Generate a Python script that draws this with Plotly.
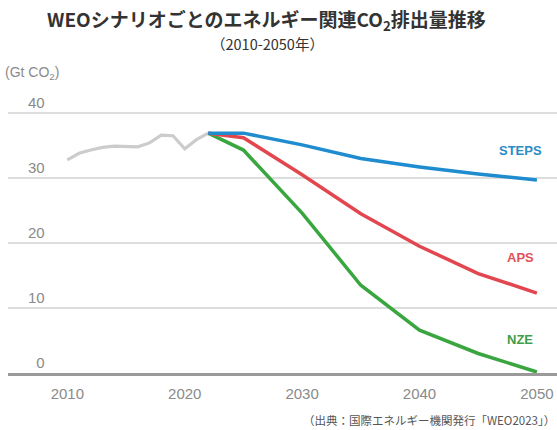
import plotly.graph_objects as go

hist_years = [2010, 2011, 2012, 2013, 2014, 2015, 2016, 2017, 2018, 2019, 2020, 2021, 2022]
hist_vals = [32.8, 33.8, 34.3, 34.7, 34.9, 34.8, 34.8, 35.4, 36.6, 36.5, 34.5, 35.9, 36.9]

scen_years = [2022, 2025, 2030, 2035, 2040, 2045, 2050]
steps_vals = [36.9, 36.9, 35.1, 33.0, 31.7, 30.6, 29.7]
aps_vals = [36.9, 36.2, 30.5, 24.5, 19.5, 15.3, 12.3]
nze_vals = [36.9, 34.3, 24.6, 13.5, 6.6, 3.0, 0.15]

x_ticks = [2010, 2020, 2030, 2040, 2050]
y_ticks = [0, 10, 20, 30, 40]

labels = [("STEPS", 2048.6, 34.3, "#2a8cc6"),
          ("APS", 2048.6, 17.7, "#e0525a"),
          ("NZE", 2048.6, 5.1, "#3f9e4a")]

GRAY_TXT = "#8a8a8a"
FONT = "Liberation Sans, Noto Sans CJK JP, sans-serif"
JP = "Noto Sans CJK JP, sans-serif"

TOP = 80          # plot area top (px)
BOT = 373         # y = 0 (px)
PXV = 6.5         # px per unit
PH = BOT - TOP

fig = go.Figure()
fig.add_trace(go.Scatter(x=hist_years, y=hist_vals, mode="lines",
                         line=dict(color="#cccccc", width=3.2), hoverinfo="skip"))
fig.add_trace(go.Scatter(x=scen_years, y=nze_vals, mode="lines",
                         line=dict(color="#3aa640", width=3.5)))
fig.add_trace(go.Scatter(x=scen_years, y=aps_vals, mode="lines",
                         line=dict(color="#e2474f", width=3.5)))
fig.add_trace(go.Scatter(x=scen_years, y=steps_vals, mode="lines",
                         line=dict(color="#1e8ccf", width=3.5)))

for name, xx, yy, col in labels:
    fig.add_annotation(x=xx, y=yy, text=f"<b>{name}</b>", showarrow=False,
                       font=dict(family=FONT, size=13, color=col), xanchor="center")

def py(p):
    return (BOT - p) / PH

# titles
fig.add_annotation(xref="paper", yref="paper", x=(266 - 8) / 549, y=py(20),
                   text="<b>WEOシナリオごとのエネルギー関連CO<sub>2</sub>排出量推移</b>",
                   showarrow=False, font=dict(family=JP, size=19, color="#333333"),
                   xanchor="center", yanchor="middle")
fig.add_annotation(xref="paper", yref="paper", x=(267 - 8) / 549, y=py(44),
                   text="（2010-2050年）", showarrow=False,
                   font=dict(family=JP, size=14.5, color="#333333"),
                   xanchor="center", yanchor="middle")
fig.add_annotation(xref="paper", yref="paper", x=(3 - 8) / 549, y=py(73),
                   text="(Gt CO<sub>2</sub>)", showarrow=False,
                   font=dict(family=FONT, size=14, color=GRAY_TXT),
                   xanchor="left", yanchor="middle")
fig.add_annotation(xref="paper", yref="paper", x=1.0, y=py(420),
                   text="（出典：国際エネルギー機関発行「WEO2023」）", showarrow=False,
                   font=dict(family=JP, size=11.5, color="#555555"),
                   xanchor="right", yanchor="middle")

px_per_year = 11.67
fig.update_layout(
    width=557, height=430,
    margin=dict(l=8, r=0, t=TOP, b=430 - BOT),
    paper_bgcolor="white", plot_bgcolor="white",
    showlegend=False,
    xaxis=dict(range=[2010 - 59 / px_per_year, 2050 + 20 / px_per_year],
               tickvals=x_ticks, ticktext=[str(v) for v in x_ticks],
               showgrid=False, zeroline=False, showline=True,
               linecolor="#9a9a9a", linewidth=2.5, ticks="",
               ticklabelstandoff=5,
               tickfont=dict(family=FONT, size=15, color=GRAY_TXT)),
    yaxis=dict(range=[0, PH / PXV], tickvals=y_ticks,
               ticktext=[str(v).rjust(2, "\u2007") for v in y_ticks],
               showgrid=True, gridcolor="#dddddd", gridwidth=1.5,
               zeroline=False, ticks="",
               ticklabelposition="inside top", ticklabelstandoff=17,
               tickfont=dict(family=FONT, size=15, color=GRAY_TXT)),
)

fig.write_html("out.html")
